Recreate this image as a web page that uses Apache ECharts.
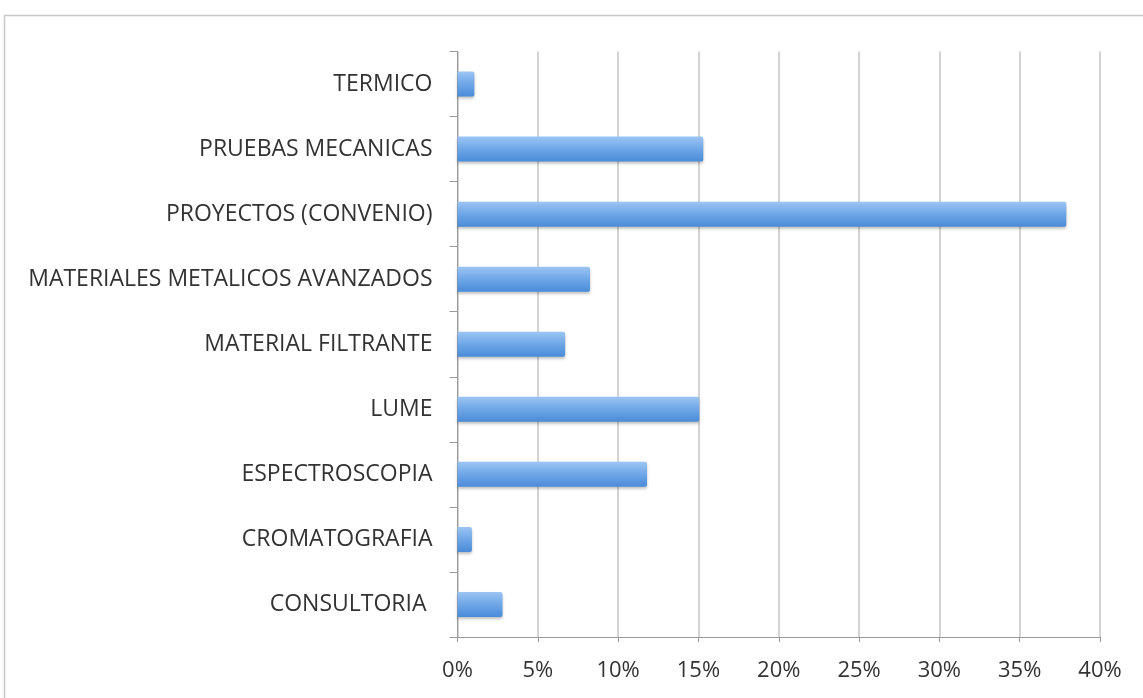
<!DOCTYPE html>
<html>
<head>
<meta charset="utf-8">
<script src="https://cdn.jsdelivr.net/npm/echarts@6/dist/echarts.min.js"></script>
<style>
  html, body { margin: 0; padding: 0; background: #fff; }
  #chart { width: 1143px; height: 698px; }
</style>
</head>
<body>
<div id="chart"></div>
<script>
// categories listed bottom to top (ECharts category y axis starts at the bottom)
const categories = [
  'CONSULTORIA ',
  'CROMATOGRAFIA',
  'ESPECTROSCOPIA',
  'LUME',
  'MATERIAL FILTRANTE',
  'MATERIALES METALICOS AVANZADOS',
  'PROYECTOS (CONVENIO)',
  'PRUEBAS MECANICAS',
  'TERMICO'
];
const shares = [2.8, 0.9, 11.8, 15.05, 6.7, 8.25, 37.9, 15.3, 1.05];
const xTicks = [0, 5, 10, 15, 20, 25, 30, 35, 40];

const chart = echarts.init(document.getElementById('chart'));
chart.setOption({
  animation: false,
  textStyle: { fontFamily: 'Open Sans' },
  graphic: [
    {
      type: 'polyline',
      shape: { points: [[4.5, 698], [4.5, 15.5], [1143, 15.5]] },
      style: { stroke: '#c8c8c8', lineWidth: 1.5, fill: null }
    }
  ],
  grid: { left: 457.5, right: 43, top: 51.5, bottom: 61 },
  xAxis: {
    type: 'value',
    min: xTicks[0],
    max: xTicks[xTicks.length - 1],
    interval: 5,
    axisLine: { show: true, lineStyle: { color: '#9a9a9a', width: 1 } },
    axisTick: { show: true, length: 5, lineStyle: { color: '#9a9a9a' } },
    axisLabel: { color: '#333', fontSize: 22, margin: 23, formatter: v => v + '%' },
    splitLine: { show: true, lineStyle: { color: '#c4c4c4', width: 1.5 } }
  },
  yAxis: {
    type: 'category',
    data: categories,
    axisLine: { show: true, lineStyle: { color: '#9a9a9a', width: 1 } },
    axisTick: { show: true, length: 8, lineStyle: { color: '#9a9a9a' } },
    axisLabel: { color: '#333', fontSize: 23, margin: 25 }
  },
  series: [
    {
      type: 'bar',
      data: shares,
      barWidth: 25,
      itemStyle: {
        borderRadius: [0, 2, 2, 0],
        shadowColor: 'rgba(0,0,0,0.25)',
        shadowBlur: 3,
        shadowOffsetY: 2,
        color: new echarts.graphic.LinearGradient(0, 0, 0, 1, [
          { offset: 0, color: '#9cc5f3' },
          { offset: 0.45, color: '#72a9e8' },
          { offset: 1, color: '#4a8bd8' }
        ])
      }
    }
  ]
});
</script>
</body>
</html>
